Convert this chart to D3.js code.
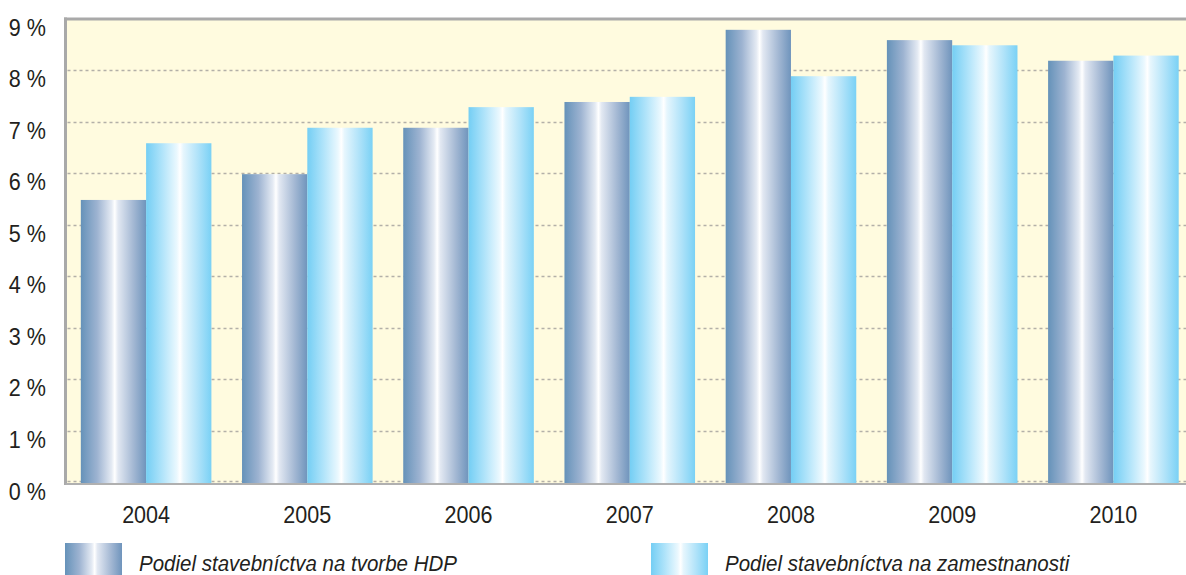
<!DOCTYPE html>
<html lang="sk">
<head>
<meta charset="UTF-8">
<title>Podiel stavebníctva</title>
<script src="https://cdn.jsdelivr.net/npm/d3@7"></script>
<style>
  body { margin: 0; background: #fff; }
  svg { display: block; }
  text { font-family: "Liberation Sans", Arial, sans-serif; fill: #231f20; }
</style>
</head>
<body>
<script>
var years = ["2004", "2005", "2006", "2007", "2008", "2009", "2010"];
var hdp = [5.5, 6.0, 6.9, 7.4, 8.8, 8.6, 8.2];
var zam = [6.6, 6.9, 7.3, 7.5, 7.9, 8.5, 8.3];
var yTicks = [0, 1, 2, 3, 4, 5, 6, 7, 8, 9];
var seriesNames = ["Podiel stavebníctva na tvorbe HDP", "Podiel stavebníctva na zamestnanosti"];

var w = 1186, h = 575;
var plotLeft = 65.5, plotTop = 19.5, plotBottom = 483.5, plotRight = 1194;

var svg = d3.select("body").append("svg")
  .attr("width", w)
  .attr("height", h);

// gradients for the cylinder look
var defs = svg.append("defs");
function grad(id, stops) {
  var g = defs.append("linearGradient").attr("id", id)
    .attr("x1", "0%").attr("x2", "100%").attr("y1", "0%").attr("y2", "0%");
  stops.forEach(function(s) {
    g.append("stop").attr("offset", s[0]).attr("stop-color", s[1]);
  });
}
grad("gHdp", [["0%", "#6592b9"], ["25%", "#9db3d1"], ["47%", "#e4eaf3"], ["52%", "#ffffff"], ["57%", "#e2e8f2"], ["80%", "#a5b9d4"], ["100%", "#6f94bc"]]);
grad("gZam", [["0%", "#74cef4"], ["25%", "#b1e4fa"], ["47%", "#eaf8fe"], ["52%", "#ffffff"], ["57%", "#e6f6fd"], ["80%", "#aee2f9"], ["100%", "#7ad1f5"]]);

var x0 = d3.scaleBand()
  .domain(years)
  .range([plotLeft, plotRight])
  .paddingInner(0.19)
  .paddingOuter(0.095);

var x1 = d3.scaleBand()
  .domain(["hdp", "zam"])
  .range([0, x0.bandwidth()]);

var y = d3.scaleLinear()
  .domain([0, 9])
  .range([plotBottom, plotTop]);

// plot background
svg.append("rect")
  .attr("x", plotLeft)
  .attr("y", plotTop)
  .attr("width", w - plotLeft)
  .attr("height", plotBottom - plotTop)
  .attr("fill", "#fffbdf");

// dotted grid lines
svg.append("g")
  .selectAll("line")
  .data(yTicks.filter(function(d) { return d < 9; }))
  .enter()
  .append("line")
  .attr("x1", plotLeft + 2)
  .attr("x2", w)
  .attr("y1", function(d) { return Math.round(y(d)) - 0.5 - (d === 0 ? 2 : 0); })
  .attr("y2", function(d) { return Math.round(y(d)) - 0.5 - (d === 0 ? 2 : 0); })
  .attr("stroke", "#b3b0a8")
  .attr("stroke-width", 1.6)
  .attr("stroke-dasharray", "3,3");

// bars
var rows = years.map(function(yr, i) { return { year: yr, hdp: hdp[i], zam: zam[i] }; });

var groups = svg.append("g")
  .selectAll("g")
  .data(rows)
  .enter()
  .append("g")
  .attr("transform", function(d) { return "translate(" + x0(d.year) + ",0)"; });

groups.selectAll("rect")
  .data(function(d) { return [{ k: "hdp", v: d.hdp }, { k: "zam", v: d.zam }]; })
  .enter()
  .append("rect")
  .attr("x", function(d) { return x1(d.k); })
  .attr("y", function(d) { return y(d.v); })
  .attr("width", x1.bandwidth())
  .attr("height", function(d) { return y(0) - y(d.v); })
  .attr("fill", function(d) { return d.k === "hdp" ? "url(#gHdp)" : "url(#gZam)"; });

// frame: left and top thick, bottom thin
svg.append("line")
  .attr("x1", plotLeft).attr("x2", plotLeft)
  .attr("y1", plotTop - 2).attr("y2", plotBottom + 1.5)
  .attr("stroke", "#a9a9a9").attr("stroke-width", 3);
svg.append("line")
  .attr("x1", plotLeft - 1.5).attr("x2", w)
  .attr("y1", plotTop - 0.5).attr("y2", plotTop - 0.5)
  .attr("stroke", "#a9a9a9").attr("stroke-width", 3);
svg.append("line")
  .attr("x1", plotLeft).attr("x2", w)
  .attr("y1", plotBottom + 0.5).attr("y2", plotBottom + 0.5)
  .attr("stroke", "#b0b0b0").attr("stroke-width", 2);

// y labels
svg.append("g")
  .selectAll("text")
  .data(yTicks)
  .enter()
  .append("text")
  .attr("transform", function(d) { return "translate(46," + (y(d) + 16) + ") scale(0.88,1)"; })
  .attr("text-anchor", "end")
  .attr("font-size", 24.5)
  .text(function(d) { return d + " %"; });

// x labels
svg.append("g")
  .selectAll("text")
  .data(years)
  .enter()
  .append("text")
  .attr("transform", function(d) { return "translate(" + (x0(d) + x0.bandwidth() / 2) + ",523) scale(0.88,1)"; })
  .attr("text-anchor", "middle")
  .attr("font-size", 24.5)
  .text(function(d) { return d; });

// legend
var legend = svg.append("g")
  .selectAll("g")
  .data(seriesNames)
  .enter()
  .append("g")
  .attr("transform", function(d, i) { return "translate(" + (i === 0 ? 65 : 651) + ",543)"; });

legend.append("rect")
  .attr("width", 57)
  .attr("height", 32)
  .attr("fill", function(d, i) { return i === 0 ? "url(#gHdp)" : "url(#gZam)"; });

legend.append("text")
  .attr("transform", "translate(74,28) scale(0.9,1)")
  .attr("font-size", 22.8)
  .attr("font-style", "italic")
  .text(function(d) { return d; });
</script>
</body>
</html>
